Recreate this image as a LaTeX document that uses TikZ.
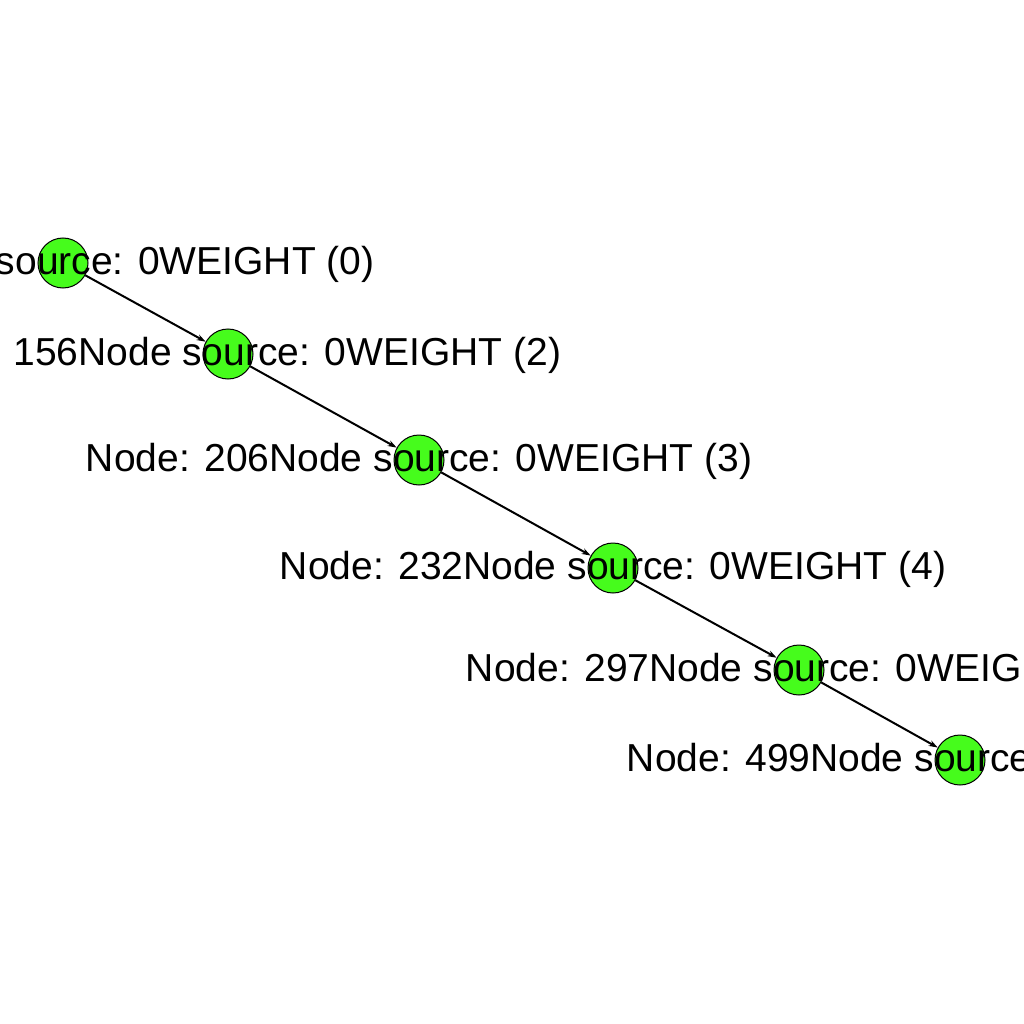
\documentclass[tikz,border=0pt]{standalone}
\usepackage{fontspec}
\setmainfont{Liberation Sans}
\usetikzlibrary{arrows.meta}
\definecolor{nodegreen}{RGB}{70,252,28}
\tikzset{
  vert/.style={circle,draw=black,line width=1pt,fill=nodegreen,minimum size=50pt,inner sep=0pt},
  lbl/.style={anchor=base,inner sep=0pt,font=\fontsize{39}{47}\selectfont,text=black},
  edge/.style={draw=black,line width=2pt,-{Stealth[length=9pt,width=6pt]}},
}
\begin{document}
\begin{tikzpicture}[x=1pt,y=-1pt]
\useasboundingbox (0,0) rectangle (1024,1024);
\fill[white] (0,0) rectangle (1024,1024);
\clip (0,0) rectangle (1024,1024);
\node[vert] (n1) at (63,263) {};
\node[vert] (n2) at (228,354) {};
\node[vert] (n3) at (419,460) {};
\node[vert] (n4) at (613,568) {};
\node[vert] (n5) at (799,670) {};
\node[vert] (n6) at (960,760) {};
\draw[edge] (n1) -- (n2);
\draw[edge] (n2) -- (n3);
\draw[edge] (n3) -- (n4);
\draw[edge] (n4) -- (n5);
\draw[edge] (n5) -- (n6);
\node[lbl] (l1) at (63,274) {\phantom{Node: 0Node }source: 0WEIGHT (0)};
\node[lbl] (l2) at (228,365) {\phantom{Node: }156Node source: 0WEIGHT (2)};
\node[lbl] (l3) at (419,471) {Node: 206Node source: 0WEIGHT (3)};
\node[lbl] (l4) at (613,579) {Node: 232Node source: 0WEIGHT (4)};
\node[lbl] (l5) at (799,681) {Node: 297Node source: 0WEIG\phantom{HT (5)}};
\node[lbl] (l6) at (960,771) {Node: 499Node source\phantom{: 0WEIGHT (6)}};
\end{tikzpicture}
\end{document}
